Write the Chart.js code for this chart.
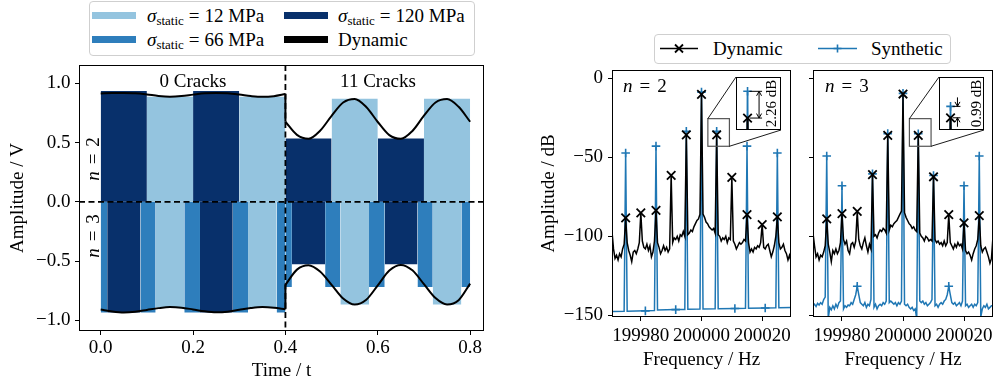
<!DOCTYPE html>
<html><head><meta charset="utf-8">
<script src="https://cdn.jsdelivr.net/npm/chart.js@4.4.1/dist/chart.umd.min.js"></script>
<style>
html,body{margin:0;padding:0;background:#fff;}
#root{position:relative;width:1000px;height:384px;overflow:hidden;font-family:'Liberation Serif','DejaVu Serif',serif;color:#000;}
canvas{position:absolute;}
.t{position:absolute;font-size:19px;line-height:20px;white-space:nowrap;}
.c{transform:translateX(-50%);}
.r{transform:translate(-50%,-50%) rotate(-90deg);}
.eq{margin:0 5px;}
.eqn{margin:0 7px;}
.legend{position:absolute;border:1px solid #cfcfcf;border-radius:4px;background:#fff;box-sizing:border-box;}
.patch{position:absolute;}
sub{font-size:13px;vertical-align:-3px;line-height:0;}
</style></head>
<body><div id="root">
<canvas id="left" width="500" height="384" style="left:0;top:0;width:500px;height:384px"></canvas>
<canvas id="specA" width="270" height="384" style="left:530px;top:0;width:270px;height:384px"></canvas>
<canvas id="specB" width="200" height="384" style="left:800px;top:0;width:200px;height:384px"></canvas>
<canvas id="insetA" width="45" height="53"></canvas>
<canvas id="insetB" width="45" height="53"></canvas>

<div class="legend" style="left:89px;top:1px;width:386px;height:55px"></div>
<div class="patch" style="left:92px;top:12px;width:44px;height:7px;background:#94c4df"></div>
<div class="patch" style="left:92px;top:36px;width:44px;height:7px;background:#2e7ebc"></div>
<div class="patch" style="left:284px;top:12px;width:44px;height:7px;background:#08306b"></div>
<div class="patch" style="left:284px;top:36px;width:44px;height:7px;background:#000"></div>
<div class="t" style="left:147px;top:6px"><i>σ</i><sub>static</sub><span class="eq">=</span>12 MPa</div>
<div class="t" style="left:147px;top:30px"><i>σ</i><sub>static</sub><span class="eq">=</span>66 MPa</div>
<div class="t" style="left:338px;top:6px"><i>σ</i><sub>static</sub><span class="eq">=</span>120 MPa</div>
<div class="t" style="left:338px;top:30px">Dynamic</div>

<div class="t c" style="left:193px;top:71px">0 Cracks</div>
<div class="t c" style="left:378px;top:71px">11 Cracks</div>
<div class="t r" style="left:93px;top:159px"><i>n</i><span class="eqn">=</span>2</div>
<div class="t r" style="left:93px;top:236px"><i>n</i><span class="eqn">=</span>3</div>

<div class="legend" style="left:654px;top:34px;width:297px;height:30px"></div>
<svg style="position:absolute;left:660px;top:41px" width="40" height="15"><line x1="0" y1="7.5" x2="38" y2="7.5" stroke="#000" stroke-width="1.6"/><path d="M15 3.5 L23 11.5 M23 3.5 L15 11.5" stroke="#000" stroke-width="1.8" fill="none"/></svg>
<div class="t" style="left:713px;top:39px">Dynamic</div>
<svg style="position:absolute;left:818px;top:41px" width="40" height="15"><line x1="0" y1="7.5" x2="39" y2="7.5" stroke="#1f77b4" stroke-width="1.6"/><path d="M19.5 3.5 V11.5 M15.5 7.5 H23.5" stroke="#1f77b4" stroke-width="1.6" fill="none"/></svg>
<div class="t" style="left:871px;top:39px">Synthetic</div>

<div class="t" style="left:623px;top:76px"><i>n</i><span class="eqn">=</span>2</div>
<div class="t" style="left:825px;top:76px"><i>n</i><span class="eqn">=</span>3</div>
</div>

<script>
// ---------------- left panel data ----------------
const timeTicks = [0, 0.2, 0.4, 0.6, 0.8];
const ampTicks = [-1, -0.5, 0, 0.5, 1];
const crackChangeTime = 0.4;

// n = 2 (upper half) static segments
const n2Start  = [0.0, 0.1, 0.2, 0.3, 0.4, 0.5, 0.6, 0.7];
const n2End    = [0.1, 0.2, 0.3, 0.4, 0.5, 0.6, 0.7, 0.8];
const n2Stress = [120, 12, 120, 12, 120, 12, 120, 12];
const n2Amp    = [0.935, 0.887, 0.935, 0.887, 0.535, 0.870, 0.535, 0.870];

// n = 3 (lower half) static segments
const n3Start  = [0.000, 0.014, 0.086, 0.119, 0.181, 0.215, 0.286, 0.319, 0.381, 0.400, 0.414, 0.486, 0.519, 0.581, 0.615, 0.686, 0.719, 0.781];
const n3End    = [0.014, 0.086, 0.119, 0.181, 0.215, 0.286, 0.319, 0.381, 0.400, 0.414, 0.486, 0.519, 0.581, 0.615, 0.686, 0.719, 0.781, 0.800];
const n3Stress = [66, 120, 66, 12, 66, 120, 66, 12, 66, 66, 120, 66, 12, 66, 120, 66, 12, 66];
const n3Amp    = [-0.934, -0.934, -0.934, -0.892, -0.934, -0.934, -0.934, -0.892, -0.934, -0.718, -0.526, -0.718, -0.867, -0.718, -0.526, -0.718, -0.867, -0.718];

// dynamic envelope
const dynTime0  = [0, 0.025, 0.05, 0.075, 0.1, 0.125, 0.15, 0.175, 0.2, 0.225, 0.25, 0.275, 0.3, 0.325, 0.35, 0.375, 0.4];
const dynTime11 = [0.4, 0.425, 0.45, 0.475, 0.5, 0.525, 0.55, 0.575, 0.6, 0.625, 0.65, 0.675, 0.7, 0.725, 0.75, 0.775, 0.8];
const dynN2_0  = [0.915, 0.918, 0.919, 0.917, 0.907, 0.894, 0.888, 0.893, 0.905, 0.916, 0.919, 0.916, 0.906, 0.893, 0.886, 0.892, 0.910];
const dynN2_11 = [0.676, 0.565, 0.532, 0.600, 0.726, 0.838, 0.868, 0.800, 0.674, 0.563, 0.532, 0.598, 0.727, 0.838, 0.867, 0.802, 0.676];
const dynN3_0  = [-0.909, -0.925, -0.933, -0.927, -0.912, -0.897, -0.888, -0.893, -0.908, -0.924, -0.932, -0.927, -0.911, -0.896, -0.888, -0.893, -0.906];
const dynN3_11 = [-0.700, -0.572, -0.535, -0.588, -0.700, -0.815, -0.866, -0.826, -0.705, -0.580, -0.532, -0.578, -0.695, -0.812, -0.866, -0.830, -0.690];

// ---------------- spectra data ----------------
const CARRIER_HZ = 200000;
const freqTicks = [199980, 200000, 200020];
const dbTicks = [0, -50, -100, -150];
const harmonicDf = [-25, -20, -15, -10, -5, 0, 5, 10, 15, 20, 25];
const binStartDf = -29.5, binStepDf = 0.5, binCount = 119;

const dynA_db = [
 -97, -108, -114, -112, -115, -111, -113, -108, -105, -88.4,
 -104, -109, -112, -116, -110, -109, -111, -108, -104, -85.2,
 -103, -107, -108, -105, -109, -106, -113, -110, -103, -83.6,
 -104, -107, -111, -109, -106, -109, -107, -110, -108, -61.4,
 -104, -101, -102, -100, -103, -99, -100, -97, -100, -35.8,
 -99, -98, -96, -97, -94, -92, -90, -89, -86, -10.1,
 -86, -88, -91, -92, -94, -95, -96, -95, -98, -35.8,
 -99, -100, -103, -101, -102, -100, -104, -101, -102, -62.7,
 -103, -105, -108, -106, -104, -105, -104, -102, -103, -86.3,
 -104, -110, -108, -110, -107, -108, -106, -107, -104, -92.6,
 -107, -108, -106, -105, -109, -113, -110, -106, -100, -87.7,
 -104, -108, -107, -105, -109, -111, -115, -112, -116];

const synA_df = [-29.5, -25.5, -25, -24.5, -18.5, -15.5, -15, -14.5, -8.5, -5.5, -5, -4.5, -0.5, 0, 0.5, 4.5, 5, 5.5, 11, 14.5, 15, 15.5, 21, 24.5, 25, 25.5, 29.5];
const synA_db = [-147.6, -147.5, -47.3, -147.4, -147.2, -147.0, -42.9, -146.6, -146.4, -146.3, -33.5, -146.2, -146.1, -8.7, -146.0, -145.9, -33.54, -145.8, -145.7, -145.6, -42.9, -145.5, -145.4, -145.3, -47.3, -145.2, -145.1];
const synA_markDf = [-25, -18.5, -15, -8.5, -5, 0, 5, 11, 15, 21, 25];

const dynB_db = [
 -98, -106, -113, -111, -115, -112, -113, -110, -106, -89.0,
 -105, -110, -116, -109, -111, -108, -111, -109, -104, -85.6,
 -102, -105, -103, -109, -111, -105, -104, -107, -103, -84.2,
 -102, -106, -108, -104, -101, -106, -110, -105, -108, -61.0,
 -100, -99, -101, -98, -96, -97, -95, -96, -98, -36.1,
 -96, -93, -94, -92, -91, -90, -88, -86, -84, -9.9,
 -85, -88, -90, -92, -93, -95, -94, -96, -97, -36.1,
 -98, -100, -101, -103, -100, -101, -103, -102, -103, -62.3,
 -102, -104, -103, -105, -104, -106, -103, -106, -104, -86.3,
 -104, -106, -108, -105, -107, -104, -106, -105, -108, -91.5,
 -109, -111, -110, -112, -115, -111, -108, -106, -102, -86.9,
 -106, -110, -108, -107, -110, -113, -117, -114, -100];

const synB_db = [
 -144, -143, -144.5, -142.5, -143.5, -142, -143, -140, -138.5, -49.2,
 -152, -145, -146.5, -144, -146, -143, -145, -142, -141, -68,
 -146, -144, -145, -143.5, -144, -142, -143, -140, -137, -131.6,
 -137, -142, -143, -144, -142, -145, -143, -144, -140, -60.5,
 -145, -143, -146, -144, -143, -144, -142, -143, -141, -35.0,
 -142, -141, -142, -143, -142, -144, -142, -143, -141, -9.5,
 -143, -144, -143, -145, -146, -145, -147, -146, -152, -35.11,
 -141, -142, -141, -143, -142, -144, -143, -142, -140, -61.5,
 -144, -143, -145, -143, -142, -143, -141, -140, -137, -131.6,
 -137, -142, -143, -142, -144, -143, -142, -144, -141, -68,
 -144, -143, -145, -144, -143, -145, -143, -144, -142, -49.2,
 -151, -146, -144, -145, -143, -146, -145, -144, -144];

// inset (zoom on the harmonic at +5 Hz)
const zoomPeakDf = 5;
const zoomBoxDf = [2.1, 9.2];
const zoomBoxDb = [-43, -25.5];

// ---------------- styling ----------------
const FS = 19;
const stressColor = {12: '#94c4df', 66: '#2e7ebc', 120: '#08306b'};
const BLUE = '#1f77b4';
Chart.defaults.font.family = "'Liberation Serif', 'DejaVu Serif', serif";
Chart.defaults.font.size = FS;
Chart.defaults.color = '#000';

const fmtMinus = v => (v < 0 ? '\u2212' : '') + Math.abs(v);
const fmtMinus1 = v => (v < 0 ? '\u2212' : '') + Math.abs(v).toFixed(1);

const framePlugin = {
  id: 'frame',
  afterDraw(chart) {
    const {ctx, chartArea: a} = chart;
    ctx.save(); ctx.strokeStyle = '#000'; ctx.lineWidth = 1;
    ctx.strokeRect(Math.round(a.left) + 0.5, Math.round(a.top) + 0.5, Math.round(a.right - a.left) - 1, Math.round(a.bottom - a.top) - 1);
    ctx.restore();
  }
};

function axisBase(ticksArr, extra) {
  return Object.assign({
    type: 'linear',
    afterBuildTicks: s => { s.ticks = ticksArr.map(v => ({value: v})); },
    grid: {display: true, drawOnChartArea: false, drawTicks: true, tickLength: 4, color: '#000', lineWidth: 1},
    border: {display: false},
  }, extra);
}

// ---------------- left chart ----------------
const segDatasets = [];
function addSegs(starts, ends, stress, amps) {
  starts.forEach((s, i) => {
    segDatasets.push({
      data: [{x: s, y: amps[i]}, {x: ends[i], y: amps[i]}],
      fill: 'origin', backgroundColor: stressColor[stress[i]],
      borderColor: 'rgba(0,0,0,0)', borderWidth: 0, pointRadius: 0, order: 2
    });
  });
}
addSegs(n2Start, n2End, n2Stress, n2Amp);
addSegs(n3Start, n3End, n3Stress, n3Amp);

const curve = (ts, vs) => ts.map((t, i) => ({x: t, y: vs[i]}));
const curveDs = (ts, vs) => ({data: curve(ts, vs), borderColor: '#000', borderWidth: 2, pointRadius: 0, fill: false, cubicInterpolationMode: 'monotone', order: 0});
const linkDs = (a, b) => ({data: [{x: crackChangeTime, y: a[a.length - 1]}, {x: crackChangeTime, y: b[0]}], borderColor: '#000', borderWidth: 2, pointRadius: 0, fill: false, order: 0});

const dashPlugin = {
  id: 'dash',
  afterDatasetsDraw(chart) {
    const {ctx, chartArea: a, scales: {x, y}} = chart;
    const px = x.getPixelForValue(crackChangeTime), py = y.getPixelForValue(0);
    ctx.save(); ctx.strokeStyle = '#000'; ctx.lineWidth = 1.8; ctx.setLineDash([6, 3.5]);
    ctx.beginPath(); ctx.moveTo(px, a.top); ctx.lineTo(px, a.bottom); ctx.stroke();
    ctx.beginPath(); ctx.moveTo(a.left, py); ctx.lineTo(a.right, py); ctx.stroke();
    ctx.restore();
  }
};

new Chart(document.getElementById('left'), {
  type: 'line',
  data: {datasets: [
    curveDs(dynTime0, dynN2_0), curveDs(dynTime11, dynN2_11), linkDs(dynN2_0, dynN2_11),
    curveDs(dynTime0, dynN3_0), curveDs(dynTime11, dynN3_11), linkDs(dynN3_0, dynN3_11),
    ...segDatasets]},
  options: {
    responsive: false, animation: false, devicePixelRatio: 1,
    layout: {padding: {left: 0, top: 65, right: 16, bottom: 0}},
    plugins: {legend: {display: false}, tooltip: {enabled: false}},
    scales: {
      x: axisBase(timeTicks, {
        min: -0.047, max: 0.830,
        afterFit: s => { s.height = 53; s.paddingLeft = 0; s.paddingRight = 0; },
        ticks: {callback: v => v.toFixed(1), autoSkip: false, maxRotation: 0, padding: 2},
        title: {display: true, text: 'Time / t', padding: {top: 0, bottom: 2}, font: {size: FS}}
      }),
      y: axisBase(ampTicks, {
        min: -1.09, max: 1.155,
        afterFit: s => { s.width = 79; s.paddingTop = 0; s.paddingBottom = 0; },
        ticks: {callback: fmtMinus1, autoSkip: false, padding: 4.5},
        title: {display: true, text: 'Amplitude / V', padding: {top: 6.5, bottom: 0}, font: {size: FS}}
      })
    }
  },
  plugins: [dashPlugin, framePlugin]
});

// ---------------- spectra ----------------
const binsDf = Array.from({length: binCount}, (_, i) => binStartDf + binStepDf * i);
const toXY = (dfs, dbs) => dfs.map((d, i) => ({x: CARRIER_HZ + d, y: dbs[i]}));
const markR = (list, r) => ctx => (ctx.raw && list.includes(Math.round((ctx.raw.x - CARRIER_HZ) * 10) / 10)) ? r : 0;

function specDatasets(dynDb, synDf, synDb, synMarks, lwDyn, lwSyn) {
  return [
    {data: toXY(binsDf, dynDb), borderColor: '#000', borderWidth: lwDyn, tension: 0, fill: false,
     pointStyle: 'crossRot', pointRadius: markR(harmonicDf, 6), pointBorderColor: '#000', pointBorderWidth: 1.8, pointBackgroundColor: '#000', order: 0},
    {data: toXY(synDf, synDb), borderColor: BLUE, borderWidth: lwSyn, tension: 0, fill: false,
     pointStyle: 'cross', pointRadius: markR(synMarks, 4.3), pointBorderColor: BLUE, pointBorderWidth: 1.6, pointBackgroundColor: BLUE, order: 1}
  ];
}

const insetBoxA = {left: 736, top: 77, width: 45, height: 53};
const insetBoxB = {left: 939, top: 77, width: 45, height: 53};

const zoomPlugin = {
  id: 'zoomBox',
  afterDatasetsDraw(chart, args, o) {
    const {ctx, scales: {x, y}} = chart;
    const x0 = x.getPixelForValue(CARRIER_HZ + zoomBoxDf[0]), x1 = x.getPixelForValue(CARRIER_HZ + zoomBoxDf[1]);
    const y0 = y.getPixelForValue(zoomBoxDb[1]), y1 = y.getPixelForValue(zoomBoxDb[0]);
    const b = o.box, off = o.canvasLeft;
    ctx.save();
    ctx.strokeStyle = '#555'; ctx.lineWidth = 1.2;
    ctx.strokeRect(x0, y0, x1 - x0, y1 - y0);
    ctx.strokeStyle = '#000'; ctx.lineWidth = 0.9;
    ctx.beginPath();
    ctx.moveTo(x0, y0); ctx.lineTo(b.left - off, b.top);
    ctx.moveTo(x1, y1); ctx.lineTo(b.left - off + b.width, b.top + b.height);
    ctx.stroke();
    ctx.restore();
  }
};

function makeSpec(id, dynDb, synDf, synDb, synMarks, yWidth, padRight, showY, box, canvasLeft) {
  return new Chart(document.getElementById(id), {
    type: 'line',
    data: {datasets: specDatasets(dynDb, synDf, synDb, synMarks, 1.5, 1.5)},
    options: {
      responsive: false, animation: false, devicePixelRatio: 1,
      layout: {padding: {left: 0, top: 70, right: padRight, bottom: 0}},
      plugins: {legend: {display: false}, tooltip: {enabled: false}, zoomBox: {box: box, canvasLeft: canvasLeft}},
      scales: {
        x: axisBase(freqTicks, {
          min: CARRIER_HZ - 29.5, max: CARRIER_HZ + 29.5,
          afterFit: s => { s.height = 67; s.paddingLeft = 0; s.paddingRight = 0; },
          ticks: {callback: v => String(v), autoSkip: false, maxRotation: 0, padding: 3.5},
          title: {display: true, text: 'Frequency / Hz', padding: {top: 0, bottom: 13}, font: {size: FS}}
        }),
        y: axisBase(dbTicks, {
          min: -151.1, max: 5.3,
          afterFit: s => { s.width = yWidth; s.paddingTop = 0; s.paddingBottom = 0; },
          ticks: {display: showY, callback: fmtMinus, autoSkip: false, padding: 5},
          title: {display: showY, text: 'Amplitude / dB', padding: {top: 7.5, bottom: 0}, font: {size: FS}}
        })
      }
    },
    plugins: [zoomPlugin, framePlugin]
  });
}

const synB_df = binsDf;
makeSpec('specA', dynA_db, synA_df, synA_db, synA_markDf, 82, 9, true, insetBoxA, 530);
makeSpec('specB', dynB_db, synB_df, synB_db, harmonicDf, 13, 7, false, insetBoxB, 800);

// ---------------- insets ----------------
const insetPlugin = {
  id: 'insetNote',
  beforeDraw(chart) { const c = chart.ctx; c.save(); c.fillStyle = '#fff'; c.fillRect(0, 0, chart.width, chart.height); c.restore(); },
  afterDraw(chart, args, o) {
    const {ctx, chartArea: a, scales: {x, y}} = chart;
    const xp = x.getPixelForValue(CARRIER_HZ + zoomPeakDf);
    const xa = x.getPixelForValue(CARRIER_HZ + o.arrowDf);
    const xt = x.getPixelForValue(CARRIER_HZ + o.textDf);
    const yb = y.getPixelForValue(o.synPeak), yk = y.getPixelForValue(o.dynPeak);
    const head = (hx, hy, dir) => { ctx.moveTo(hx - 2.5, hy - dir * 4.5); ctx.lineTo(hx, hy); ctx.lineTo(hx + 2.5, hy - dir * 4.5); };
    ctx.save(); ctx.strokeStyle = '#000'; ctx.lineWidth = 1;
    ctx.beginPath();
    ctx.moveTo(xp + 2, yb); ctx.lineTo(xa + 3, yb);
    ctx.moveTo(xp + 2, yk); ctx.lineTo(xa + 3, yk);
    if (o.mode === 'between') {
      ctx.moveTo(xa, yb); ctx.lineTo(xa, yk);
      head(xa, yb, -1); head(xa, yk, 1);
    } else {
      ctx.moveTo(xa, yb - 9); ctx.lineTo(xa, yb); head(xa, yb, 1);
      ctx.moveTo(xa, yk + 9); ctx.lineTo(xa, yk); head(xa, yk, -1);
    }
    ctx.stroke();
    ctx.translate(xt, (a.top + a.bottom) / 2); ctx.rotate(-Math.PI / 2);
    ctx.font = "15px 'Liberation Serif'"; ctx.textAlign = 'center'; ctx.textBaseline = 'middle'; ctx.fillStyle = '#000';
    ctx.fillText((o.synPeak - o.dynPeak).toFixed(2) + ' dB', 0, 0);
    ctx.restore();
    ctx.save(); ctx.strokeStyle = '#000'; ctx.lineWidth = 1;
    ctx.strokeRect(0.5, 0.5, chart.width - 1, chart.height - 1);
    ctx.restore();
  }
};

function makeInset(id, box, dynDb, synDf, synDb, synMarks, yRange, note) {
  const cv = document.getElementById(id);
  cv.width = box.width; cv.height = box.height;
  Object.assign(cv.style, {left: box.left + 'px', top: box.top + 'px', width: box.width + 'px', height: box.height + 'px'});
  const iPeak = binsDf.indexOf(zoomPeakDf);
  note.dynPeak = dynDb[iPeak];
  note.synPeak = synDb[synDf.indexOf(zoomPeakDf)];
  return new Chart(cv, {
    type: 'line',
    data: {datasets: specDatasets(dynDb, synDf, synDb, synMarks, 2.2, 1.8)},
    options: {
      responsive: false, animation: false, devicePixelRatio: 1,
      layout: {padding: 0},
      plugins: {legend: {display: false}, tooltip: {enabled: false}, insetNote: note},
      scales: {
        x: {type: 'linear', display: false, min: CARRIER_HZ + 4.0, max: CARRIER_HZ + 7.9},
        y: {type: 'linear', display: false, min: yRange[0], max: yRange[1]}
      }
    },
    plugins: [insetPlugin]
  });
}

makeInset('insetA', insetBoxA, dynA_db, synA_df, synA_db, synA_markDf, [-36.81, -32.33], {mode: 'between', arrowDf: 6.0, textDf: 7.1});
makeInset('insetB', insetBoxB, dynB_db, synB_df, synB_db, harmonicDf, [-37.16, -32.56], {mode: 'outside', arrowDf: 5.6, textDf: 7.28});
</script>
</body></html>
